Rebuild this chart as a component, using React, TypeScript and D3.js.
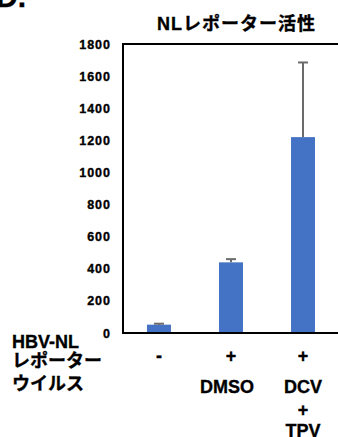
import { useEffect, useRef } from "react";
import * as d3 from "d3";

const categories = ["-", "DMSO", "DCV+TPV"];
const plusLabels = ["-", "+", "+"];
const values = [52, 440, 1220];
const errors = [6, 20, 465];
const yTicks = [0, 200, 400, 600, 800, 1000, 1200, 1400, 1600, 1800];
const rowLabels = ["HBV-NL", "レポーター", "ウイルス"];

const W = 338;
const H = 437;
const FONT = "'Liberation Sans', Arial, 'Noto Sans CJK JP', sans-serif";

const App = () => {
  const svgRef = useRef<SVGSVGElement>(null);

  useEffect(() => {
    const svg = d3.select(svgRef.current);
    svg.selectAll("*").remove();

    const x = d3
      .scaleBand<string>()
      .domain(categories)
      .range([123, 339])
      .paddingInner(0.667)
      .paddingOuter(0.333);
    const y = d3.scaleLinear().domain([0, 1800]).range([333, 44]);
    const cx = (i: number) => x(categories[i])! + x.bandwidth() / 2;

    // all text a bit heavier, like the reference
    const txt = (sel: any) =>
      sel
        .attr("font-family", FONT)
        .attr("font-weight", "bold")
        .attr("fill", "#000")
        .attr("stroke", "#000")
        .attr("stroke-width", 0.35);

    // panel letter (cropped at top)
    svg
      .append("text")
      .attr("x", -4)
      .attr("y", 7)
      .attr("font-size", 30)
      .call(txt)
      .text("D.");

    // title
    svg
      .append("text")
      .attr("x", 157)
      .attr("y", 30)
      .attr("font-size", 18)
      .attr("textLength", 158)
      .attr("lengthAdjust", "spacing")
      .call(txt)
      .text("NLレポーター活性");

    // bars
    svg
      .selectAll(".bar")
      .data(values)
      .join("rect")
      .attr("x", (d, i) => x(categories[i])!)
      .attr("y", (d) => y(d))
      .attr("width", x.bandwidth())
      .attr("height", (d) => y(0) - y(d))
      .attr("fill", "#4472C4");

    // error bars
    const eb = svg
      .selectAll(".err")
      .data(values)
      .join("g")
      .attr("stroke", "#6b6b6b")
      .attr("stroke-width", 2);
    eb.append("line")
      .attr("x1", (d, i) => cx(i))
      .attr("x2", (d, i) => cx(i))
      .attr("y1", (d) => y(d))
      .attr("y2", (d, i) => y(d + errors[i]));
    eb.append("line")
      .attr("x1", (d, i) => cx(i) - 5)
      .attr("x2", (d, i) => cx(i) + 5)
      .attr("y1", (d, i) => y(d + errors[i]))
      .attr("y2", (d, i) => y(d + errors[i]));

    // frame: left axis, top border, baseline
    svg
      .append("path")
      .attr("d", `M340,${y(1800)}H123V${y(0)}H340`)
      .attr("fill", "none")
      .attr("stroke", "#000")
      .attr("stroke-width", 2);

    // y tick labels
    svg
      .selectAll(".ytick")
      .data(yTicks)
      .join("text")
      .attr("x", 111)
      .attr("y", (d) => y(d) + 4.5)
      .attr("text-anchor", "end")
      .attr("font-size", 12.5)
      .attr("letter-spacing", 1)
      .call(txt)
      .text((d) => d);

    // row labels
    const rowY = [348, 367, 390];
    svg
      .selectAll(".row")
      .data(rowLabels)
      .join("text")
      .attr("x", 12)
      .attr("y", (d, i) => rowY[i])
      .attr("font-size", 18)
      .call(txt)
      .text((d) => d);

    // +/- row
    svg
      .selectAll(".pm")
      .data(plusLabels)
      .join("text")
      .attr("x", (d, i) => cx(i))
      .attr("y", 362)
      .attr("text-anchor", "middle")
      .attr("font-size", 18)
      .call(txt)
      .text((d) => d);

    // treatment labels
    const treat = [
      { i: 1, t: "DMSO", y: 393 },
      { i: 2, t: "DCV", y: 393 },
      { i: 2, t: "+", y: 416 },
      { i: 2, t: "TPV", y: 437 },
    ];
    svg
      .selectAll(".treat")
      .data(treat)
      .join("text")
      .attr("x", (d) => cx(d.i) - (d.i === 1 ? 4 : 0))
      .attr("y", (d) => d.y)
      .attr("text-anchor", "middle")
      .attr("font-size", 18)
      .call(txt)
      .text((d) => d.t);
  }, []);

  return (
    <svg
      ref={svgRef}
      width={W}
      height={H}
      style={{ position: "absolute", left: 0, top: 0, background: "#fff" }}
    ></svg>
  );
};

export default App;
